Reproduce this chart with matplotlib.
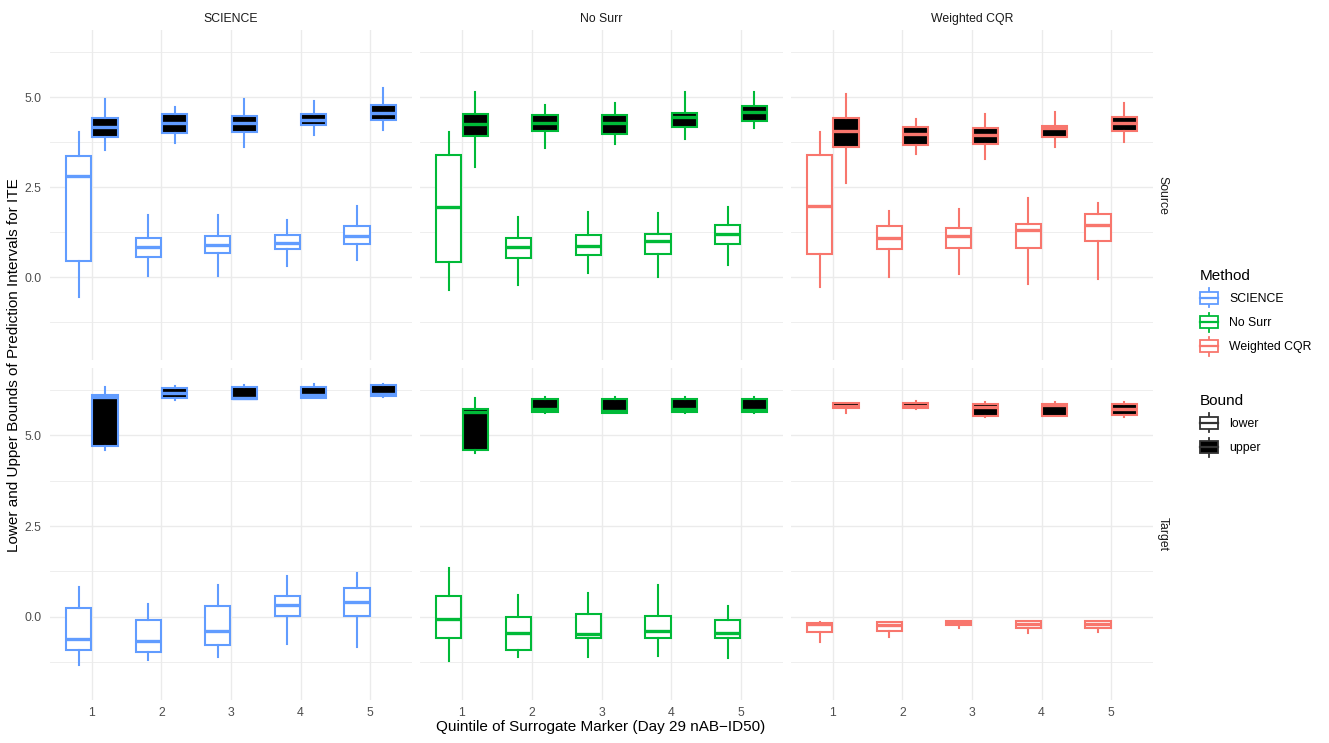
import numpy as np
import matplotlib
matplotlib.use('Agg')
import matplotlib.pyplot as plt
from matplotlib.legend_handler import HandlerBase
from matplotlib.patches import Patch, Rectangle
from matplotlib.lines import Line2D

plt.rcParams['font.family'] = ['Liberation Sans', 'DejaVu Sans']

methods = ['SCIENCE', 'No Surr', 'Weighted CQR']
colors = ['#619CFF', '#00BA38', '#F8766D']
regions = ['Source', 'Target']
quintiles = [1, 2, 3, 4, 5]

# one row per quintile: whisker low, q1, median, q3, whisker high
sci_src_lower = [[-0.55, 0.46, 2.81, 3.37, 4.04], [0.03, 0.56, 0.83, 1.10, 1.72],
                 [0.03, 0.66, 0.90, 1.14, 1.72], [0.31, 0.79, 0.94, 1.16, 1.58],
                 [0.47, 0.93, 1.14, 1.42, 1.97]]
sci_src_upper = [[3.53, 3.90, 4.16, 4.42, 4.94], [3.71, 4.01, 4.29, 4.54, 4.71],
                 [3.62, 4.04, 4.29, 4.47, 4.94], [3.94, 4.22, 4.36, 4.54, 4.90],
                 [4.08, 4.36, 4.55, 4.77, 5.25]]
nos_src_lower = [[-0.36, 0.42, 1.94, 3.38, 4.02], [-0.22, 0.53, 0.83, 1.08, 1.68],
                 [0.12, 0.61, 0.87, 1.17, 1.81], [0.01, 0.64, 1.01, 1.20, 1.77],
                 [0.35, 0.93, 1.21, 1.44, 1.94]]
nos_src_upper = [[3.06, 3.93, 4.24, 4.54, 5.13], [3.59, 4.05, 4.27, 4.50, 4.77],
                 [3.69, 3.98, 4.27, 4.49, 4.83], [3.83, 4.17, 4.44, 4.56, 5.13],
                 [4.13, 4.33, 4.57, 4.75, 5.13]]
cqr_src_lower = [[-0.27, 0.63, 1.97, 3.40, 4.03], [0.01, 0.77, 1.10, 1.42, 1.83],
                 [0.10, 0.80, 1.13, 1.37, 1.88], [-0.18, 0.80, 1.31, 1.48, 2.19],
                 [-0.04, 1.01, 1.44, 1.76, 2.06]]
cqr_src_upper = [[2.62, 3.62, 4.05, 4.43, 5.07], [3.41, 3.67, 3.97, 4.17, 4.39],
                 [3.27, 3.69, 3.95, 4.14, 4.52], [3.60, 3.90, 4.15, 4.19, 4.57],
                 [3.76, 4.06, 4.27, 4.44, 4.82]]
sci_tgt_lower = [[-1.33, -0.92, -0.61, 0.25, 0.81], [-1.20, -0.97, -0.66, -0.08, 0.35],
                 [-1.12, -0.77, -0.41, 0.30, 0.88], [-0.75, 0.02, 0.32, 0.56, 1.11],
                 [-0.85, 0.03, 0.41, 0.78, 1.20]]
sci_tgt_upper = [[4.59, 4.70, 6.06, 6.12, 6.33], [5.99, 6.03, 6.17, 6.31, 6.36],
                 [6.00, 6.00, 6.03, 6.33, 6.38], [6.03, 6.04, 6.12, 6.33, 6.41],
                 [6.05, 6.09, 6.14, 6.40, 6.43]]
nos_tgt_lower = [[-1.22, -0.60, -0.06, 0.58, 1.33], [-1.12, -0.92, -0.45, 0.00, 0.60],
                 [-1.12, -0.59, -0.48, 0.07, 0.65], [-1.09, -0.59, -0.41, 0.01, 0.88],
                 [-1.14, -0.59, -0.45, -0.08, 0.28]]
nos_tgt_upper = [[4.51, 4.61, 5.64, 5.74, 6.04], [5.62, 5.64, 5.73, 6.00, 6.06],
                 [5.63, 5.63, 5.66, 6.01, 6.06], [5.61, 5.64, 5.72, 6.00, 6.06],
                 [5.61, 5.64, 5.69, 6.01, 6.06]]
cqr_tgt_lower = [[-0.69, -0.43, -0.19, -0.18, -0.14], [-0.57, -0.41, -0.23, -0.14, -0.14],
                 [-0.30, -0.23, -0.16, -0.11, -0.11], [-0.46, -0.30, -0.20, -0.13, -0.13],
                 [-0.43, -0.30, -0.20, -0.13, -0.13]]
cqr_tgt_upper = [[5.63, 5.76, 5.81, 5.89, 5.89], [5.72, 5.75, 5.81, 5.90, 5.94],
                 [5.51, 5.53, 5.78, 5.88, 5.92], [5.53, 5.54, 5.83, 5.88, 5.92],
                 [5.51, 5.55, 5.73, 5.88, 5.92]]

boxes = {
    ('Source', 'SCIENCE'): (sci_src_lower, sci_src_upper),
    ('Source', 'No Surr'): (nos_src_lower, nos_src_upper),
    ('Source', 'Weighted CQR'): (cqr_src_lower, cqr_src_upper),
    ('Target', 'SCIENCE'): (sci_tgt_lower, sci_tgt_upper),
    ('Target', 'No Surr'): (nos_tgt_lower, nos_tgt_upper),
    ('Target', 'Weighted CQR'): (cqr_tgt_lower, cqr_tgt_upper),
}

W, H = 1329, 743
fig = plt.figure(figsize=(W / 100, H / 100), dpi=100)

panel_x = [(50, 412), (420, 783), (791, 1153)]
panel_y = [(30, 360), (368, 700)]
grid_col = '#EBEBEB'
txt_col = '#4D4D4D'


def to_stats(rows):
    return [dict(whislo=r[0], q1=r[1], med=r[2], q3=r[3], whishi=r[4]) for r in rows]


for i, region in enumerate(regions):
    for j, method in enumerate(methods):
        x0, x1 = panel_x[j]
        y0, y1 = panel_y[i]
        ax = fig.add_axes([x0 / W, 1 - y1 / H, (x1 - x0) / W, (y1 - y0) / H])
        col = colors[j]
        lower, upper = boxes[(region, method)]
        pos = np.array(quintiles, dtype=float)
        for rows, shift, fill in [(lower, -0.19, 'white'), (upper, 0.19, 'black')]:
            ax.bxp(to_stats(rows), positions=pos + shift, widths=0.36,
                   patch_artist=True, showfliers=False, showcaps=False,
                   boxprops=dict(facecolor=fill, edgecolor=col, linewidth=1.5),
                   medianprops=dict(color=col, linewidth=2.4, solid_capstyle='butt'),
                   whiskerprops=dict(color=col, linewidth=1.5),
                   manage_ticks=False, zorder=3)
        ax.set_xlim(0.4, 5.6)
        ax.set_ylim(-2.3, 6.86)
        ax.set_xticks(quintiles)
        ax.set_yticks([0, 2.5, 5.0])
        ax.set_yticks([-1.25, 1.25, 3.75, 6.25], minor=True)
        ax.grid(True, which='major', color=grid_col, linewidth=1.0, zorder=0)
        ax.grid(True, which='minor', axis='y', color=grid_col, linewidth=0.6, zorder=0)
        ax.set_axisbelow(True)
        for s in ax.spines.values():
            s.set_visible(False)
        ax.tick_params(which='both', length=0, labelsize=8.8, colors=txt_col)
        ax.tick_params(axis='y', pad=6)
        ax.tick_params(axis='x', pad=5)
        if j == 0:
            ax.set_yticklabels(['0.0', '2.5', '5.0'])
        else:
            ax.set_yticklabels([])
        if i == 1:
            ax.set_xticklabels([str(q) for q in quintiles])
        else:
            ax.set_xticklabels([])
        if i == 0:
            ax.set_title(method, fontsize=8.8, color='#1A1A1A', pad=6)
        if j == 2:
            ax.annotate(region, xy=(1, 0.5), xycoords='axes fraction',
                        xytext=(7, 0), textcoords='offset points',
                        rotation=-90, va='center', ha='center',
                        fontsize=8.8, color='#1A1A1A')

fig.text(14 / W, 1 - 365 / H, 'Lower and Upper Bounds of Prediction Intervals for ITE',
         rotation=90, va='center', ha='center', fontsize=11, color='black')
fig.text(601 / W, 1 - 727 / H, 'Quintile of Surrogate Marker (Day 29 nAB\u2212ID50)',
         va='center', ha='center', fontsize=11, color='black')


class BoxKey(HandlerBase):
    def create_artists(self, legend, orig_handle, xdescent, ydescent,
                       width, height, fontsize, trans):
        ec = orig_handle.get_edgecolor()
        fc = orig_handle.get_facecolor()
        cx = width / 2 - xdescent
        bot = -ydescent
        whisk = Line2D([cx, cx], [bot, bot + height],
                       color=ec, linewidth=1.3, transform=trans)
        box = Rectangle((-xdescent, bot + 0.19 * height), width, 0.62 * height,
                        facecolor=fc, edgecolor=ec, linewidth=1.3, transform=trans)
        med = Line2D([-xdescent, width - xdescent], [bot + 0.5 * height] * 2,
                     color=ec, linewidth=1.6, transform=trans)
        return [whisk, box, med]


method_handles = [Patch(facecolor='white', edgecolor=c) for c in colors]
bound_handles = [Patch(facecolor='white', edgecolor='#333333'),
                 Patch(facecolor='black', edgecolor='#333333')]
common = dict(loc='upper left', frameon=False, fontsize=8.8, title_fontsize=11,
              alignment='left', borderaxespad=0, borderpad=0,
              handlelength=1.5, handleheight=2.0, labelspacing=0.44,
              handletextpad=0.9, handler_map={Patch: BoxKey()})
leg1 = fig.legend(method_handles, methods, title='Method',
                  bbox_to_anchor=(1200 / W, 1 - 269 / H), **common)
leg2 = fig.legend(bound_handles, ['lower', 'upper'], title='Bound',
                  bbox_to_anchor=(1200 / W, 1 - 394 / H), **common)

fig.savefig('out.png', dpi=100)
